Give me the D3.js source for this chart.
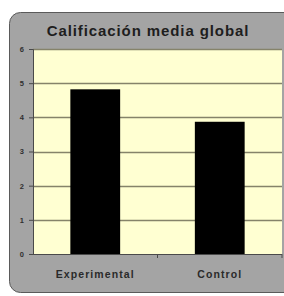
<!DOCTYPE html>
<html>
<head>
<meta charset="utf-8">
<script src="https://cdn.jsdelivr.net/npm/d3@7"></script>
<style>
  body { margin: 0; background: #ffffff; }
  svg { display: block; font-family: "Liberation Sans", Arial, sans-serif; }
</style>
</head>
<body>
<div id="chart"></div>
<script>
// data
var categories = [ "Experimental", "Control" ];
var values     = [ 4.82, 3.87 ];
var y_ticks    = [ 0, 1, 2, 3, 4, 5, 6 ];
var title      = "Calificación media global";

// --------------------------------------------------------
// size
var chart_width  = 284;
var chart_height = 296;
var plot = { left: 33, right: 282, top: 49, bottom: 254 };

var svg = d3.select( "#chart" )
	.append( "svg" )
	.attr( "width", chart_width )
	.attr( "height", chart_height );

// gray panel with rounded corners
svg.append( "rect" )
	.attr( "x", 9.5 )
	.attr( "y", 12.5 )
	.attr( "width", 300 )
	.attr( "height", 280 )
	.attr( "rx", 11 )
	.attr( "fill", "#a4a4a4" )
	.attr( "stroke", "#5a5a5a" )
	.attr( "stroke-width", 1 );

// title
svg.append( "text" )
	.attr( "x", 148 )
	.attr( "y", 36 )
	.attr( "text-anchor", "middle" )
	.attr( "font-size", 15 )
	.attr( "font-weight", "bold" )
	.attr( "letter-spacing", 0.9 )
	.attr( "fill", "#1e1e1e" )
	.text( title );

// --------------------------------------------------------
// scales
var x_scale = d3.scaleBand()
	.domain( categories )
	.range( [ plot.left, plot.right ] )
	.paddingInner( 0.6 )
	.paddingOuter( 0.3 );

var x_outer = d3.scaleBand()
	.domain( categories )
	.range( [ plot.left, plot.right ] );

var y_scale = d3.scaleLinear()
	.domain( [ 0, 6 ] )
	.range( [ plot.bottom, plot.top ] );

// plot background
svg.append( "rect" )
	.attr( "x", plot.left )
	.attr( "y", plot.top )
	.attr( "width", plot.right - plot.left )
	.attr( "height", plot.bottom - plot.top )
	.attr( "fill", "#ffffd2" );

// gridlines
svg.append( "g" )
	.selectAll( "line" )
	.data( y_ticks.filter( function( d ){ return d > 0; } ) )
	.enter()
	.append( "line" )
	.attr( "x1", plot.left )
	.attr( "x2", plot.right )
	.attr( "y1", function( d ){ return Math.round( y_scale( d ) ) + 0.5; } )
	.attr( "y2", function( d ){ return Math.round( y_scale( d ) ) + 0.5; } )
	.attr( "stroke", "#85836a" )
	.attr( "stroke-width", 1.4 );

// bars
svg.append( "g" )
	.selectAll( "rect" )
	.data( values )
	.enter()
	.append( "rect" )
	.attr( "x", function( d, i ){ return x_scale( categories[i] ); } )
	.attr( "y", function( d ){ return y_scale( d ); } )
	.attr( "width", x_scale.bandwidth() )
	.attr( "height", function( d ){ return plot.bottom - y_scale( d ); } )
	.attr( "fill", "#000000" );

// --------------------------------------------------------
// axes
var y_axis = d3.axisLeft( y_scale )
	.tickValues( y_ticks )
	.tickSize( 4 )
	.tickPadding( 5 )
	.tickFormat( d3.format( "d" ) );

var y_g = svg.append( "g" )
	.attr( "transform", "translate(" + plot.left + ",0)" )
	.call( y_axis );

y_g.selectAll( "path, line" ).attr( "stroke", "#4a4a4a" );
y_g.selectAll( "text" )
	.attr( "font-size", 7.5 )
	.attr( "font-weight", "bold" )
	.attr( "fill", "#303030" )
	.attr( "font-family", "Liberation Sans, Arial, sans-serif" );

var x_g = svg.append( "g" )
	.attr( "transform", "translate(0," + plot.bottom + ")" );

x_g.append( "line" )
	.attr( "x1", plot.left )
	.attr( "x2", plot.right )
	.attr( "y1", 0.5 )
	.attr( "y2", 0.5 )
	.attr( "stroke", "#4a4a4a" );

// tick marks between categories
x_g.selectAll( ".xtick" )
	.data( categories )
	.enter()
	.append( "line" )
	.attr( "x1", function( d ){ return x_outer( d ) + x_outer.bandwidth(); } )
	.attr( "x2", function( d ){ return x_outer( d ) + x_outer.bandwidth(); } )
	.attr( "y1", 0 )
	.attr( "y2", 4 )
	.attr( "stroke", "#4a4a4a" );

x_g.selectAll( ".xlabel" )
	.data( categories )
	.enter()
	.append( "text" )
	.attr( "x", function( d ){ return x_scale( d ) + x_scale.bandwidth() / 2; } )
	.attr( "y", 24 )
	.attr( "text-anchor", "middle" )
	.attr( "font-size", 10.5 )
	.attr( "font-weight", "bold" )
	.attr( "letter-spacing", 1.1 )
	.attr( "fill", "#2a2a2a" )
	.text( function( d ){ return d; } );
</script>
</body>
</html>
